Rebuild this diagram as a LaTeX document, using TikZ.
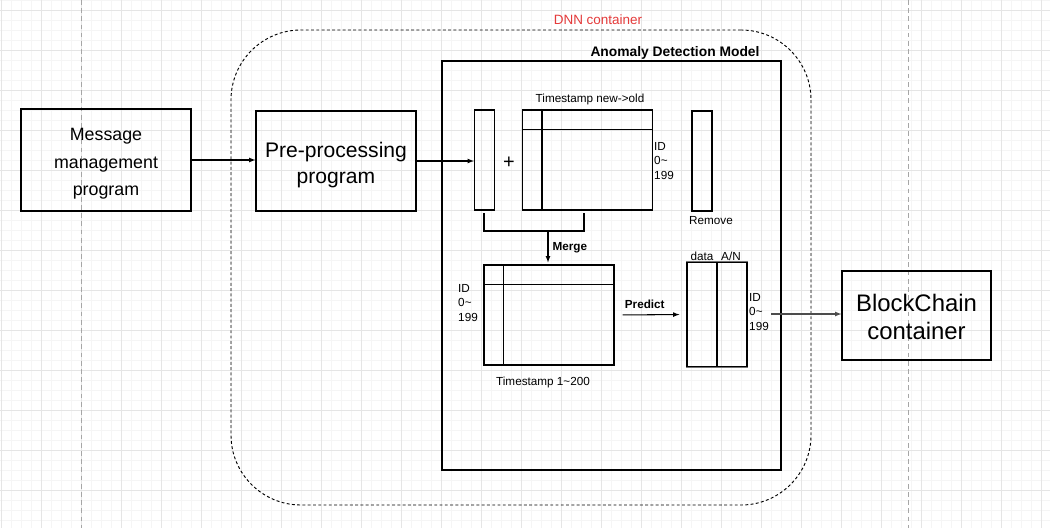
\documentclass[tikz,border=0pt]{standalone}
\usepackage{fontspec}
\setmainfont{Liberation Sans}
\usetikzlibrary{arrows}
\definecolor{dnnred}{RGB}{228,58,58}
\newcommand{\msgfont}{\fontsize{15.2}{23.5}\selectfont}
\newcommand{\prefont}{\fontsize{18}{22.2}\selectfont}
\newcommand{\bcfont}{\fontsize{20.4}{24}\selectfont}
\newcommand{\smallfont}{\fontsize{10}{12.4}\selectfont}
\tikzstyle{gridminor}=[draw=black!4, line width=0.4pt]
\tikzstyle{gridmajor}=[draw=black!10, line width=0.5pt]
\tikzstyle{pagebreak}=[draw=black!35, line width=0.6pt, dash pattern=on 4pt off 3pt]
\tikzstyle{prog}=[rectangle, draw, line width=0.9pt, inner sep=0pt]
\newcommand{\prog}{\node[prog]}
\tikzstyle{progtext}=[inner sep=0pt, align=center]
\tikzstyle{idcol}=[rectangle, draw, line width=0.9pt, inner sep=0pt, minimum width=0.6cm, minimum height=3cm]
\newcommand{\idcol}{\node[idcol]}
\tikzstyle{tsmat}=[rectangle, draw, line width=0.9pt, inner sep=0pt, minimum width=3.9cm, minimum height=3cm]
\newcommand{\tsmat}{\node[tsmat]}
\tikzstyle{lbl}=[inner sep=0pt, font=\smallfont, align=left]
\newcommand{\lbl}{\node[lbl]}
\tikzstyle{tablerim}=[draw=black!55, line width=1.3pt]

\begin{document}
\begin{tikzpicture}[x=0.03cm, y=-0.03cm
    ,every edge/.style={draw, line width=0.9pt, -latex}
]
\useasboundingbox (0,0) rectangle (1050,528);
% grid of the canvas
\foreach \gx in {1,11,...,1050} \draw[gridminor] (\gx,0) -- (\gx,528);
\foreach \gy in {0,10,...,528} \draw[gridminor] (0,\gy) -- (1050,\gy);
\foreach \gx in {1,41,...,1050} \draw[gridmajor] (\gx,0) -- (\gx,528);
\foreach \gy in {10,50,...,528} \draw[gridmajor] (0,\gy) -- (1050,\gy);
\draw[pagebreak] (81,0) -- (81,528);
\draw[pagebreak] (908,0) -- (908,528);

% containers
\node[draw, line width=0.8pt, dash pattern=on 2.5pt off 2pt, rounded corners=2.1cm,
      minimum width=17.4cm, minimum height=14.25cm] (dnn) at (521,267.5) {};
\node[text=dnnred, inner sep=0pt, font=\fontsize{11.5}{14}\selectfont] (dnnlbl) at (598,20) {DNN container};
\node[draw, line width=0.9pt, minimum width=10.17cm, minimum height=12.27cm] (adm) at (611.5,265.5) {};
\node[inner sep=0pt, font=\fontsize{11.8}{14}\selectfont\bfseries] (admlbl) at (675,53) {Anomaly Detection Model};

% programs
\prog[minimum width=5.1cm, minimum height=3.06cm] (msg) at (106,160) {};
\node[progtext, font=\msgfont] (msgtxt) at ([yshift=-0.12cm]msg.center) {Message\\management\\program};
\prog[minimum width=4.8cm, minimum height=3cm] (pre) at (336,161) {};
\node[progtext, font=\prefont] (pretxt) at ([yshift=-0.12cm]pre.center) {Pre-processing\\program};
\prog[minimum width=4.47cm, minimum height=2.67cm] (bc) at (916.5,315.5) {};
\node[progtext, font=\bcfont] (bctxt) at ([yshift=-0.05cm]bc.center) {BlockChain\\container};

% data
\idcol (new) at (484.5,160) {};
\node[inner sep=0pt, font=\fontsize{17}{18}\selectfont] (plus) at (509,163) {+};
\tsmat (old) at (587.5,160) {};
\draw[line width=0.9pt] ([xshift=0.6cm]old.north west) -- ([xshift=0.6cm]old.south west);
\draw[line width=0.9pt] ([yshift=-0.6cm]old.north west) -- ([yshift=-0.6cm]old.north east);
\idcol (rem) at (702,161) {};
\tsmat (merged) at (549,315) {};
\draw[line width=0.9pt] ([xshift=0.6cm]merged.north west) -- ([xshift=0.6cm]merged.south west);
\draw[line width=0.9pt] ([yshift=-0.6cm]merged.north west) -- ([yshift=-0.6cm]merged.north east);
\node[draw, line width=0.9pt, inner sep=0pt, minimum width=1.8cm, minimum height=3.15cm] (res) at (717,314.5) {};
\draw[line width=0.9pt] (res.north) -- (res.south);
\draw[tablerim] (res.north west) -- (res.north east);
\draw[tablerim] (res.south west) -- (res.south east);

% labels
\lbl (oldts) at (590,99) {Timestamp new->old};
\lbl[anchor=west] (oldid) at (654,161) {ID\\0\textasciitilde\\199};
\lbl (remlbl) at (711,221) {Remove};
\lbl[anchor=west] (mergedid) at (458,303) {ID\\0\textasciitilde\\199};
\lbl (mergedts) at (543,382) {Timestamp 1\textasciitilde200};
\lbl (datalbl) at (702,256) {data};
\lbl (anlbl) at (731,256) {A/N};
\lbl[anchor=west] (resid) at (749,312) {ID\\0\textasciitilde\\199};

% merge bracket
\draw[line width=0.9pt] (484,213) -- (484,231) -- (584,231) -- (584,213);
\coordinate (mrg) at (548,231);

\path
(msg.east) edge (msg.east -| pre.west)
(pre.east) edge (pre.east -| new.west)
(mrg) edge[shorten >=0.06cm] node[right=0.12cm, inner sep=0pt, font=\smallfont\bfseries] {Merge} (mrg |- merged.north)
(merged.east) edge[shorten <=0.24cm, shorten >=0.21cm] node[pos=0.42, above=0.17cm, inner sep=0pt, font=\smallfont\bfseries] {Predict} (res.west)
([yshift=-0.06cm]resid.east) edge[draw=black!70, shorten <=0.06cm] ([yshift=-0.06cm]resid.east -| bc.west)
;
\end{tikzpicture}
\end{document}
